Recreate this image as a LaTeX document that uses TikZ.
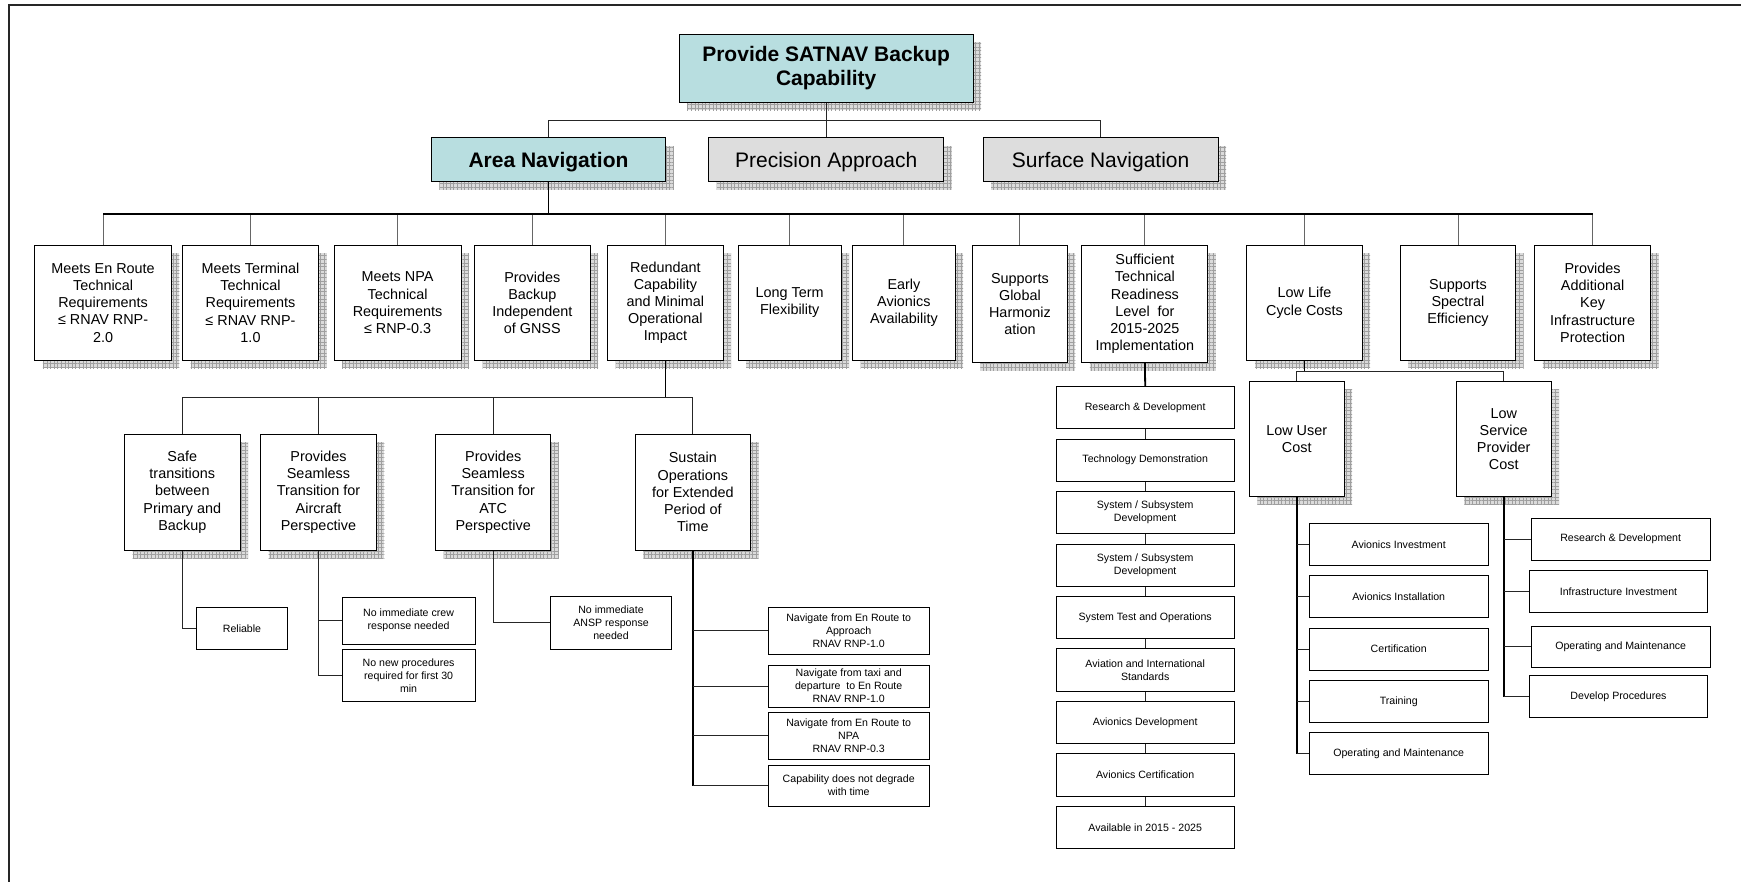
\documentclass[tikz,border=0pt]{standalone}
\usepackage{fontspec}
\setmainfont{Liberation Sans}
\usetikzlibrary{shadows,patterns.meta}

\definecolor{tealfill}{RGB}{184,222,224}
\definecolor{greyfill}{RGB}{221,221,221}

\tikzset{
  box/.style={draw=black, line width=1pt, fill=white, align=center, inner sep=1pt},
  wh/.style 2 args={minimum width=#1pt, minimum height=#2pt},
  shadowed/.style={
    general shadow={shadow xshift=8pt, shadow yshift=-8pt, fill=gray!28, draw=none},
    general shadow={shadow xshift=8pt, shadow yshift=-8pt, draw=none,
      pattern={Hatch[distance=3.6pt, angle=0, line width=0.5pt]}, pattern color=gray!75}},
  titlefont/.style={font=\fontsize{21}{24}\selectfont\bfseries},
  headfont/.style={font=\fontsize{21}{24}\selectfont},
  midfont/.style={font=\fontsize{14.4}{17.2}\selectfont},
  smallfont/.style={font=\fontsize{10.6}{13}\selectfont},
  headstrut/.style={execute at begin node={\rule{0pt}{19pt}}},
  mainbox/.style={box, shadowed, midfont},
  leaf/.style={box, smallfont, line width=0.9pt},
  conn/.style={draw=black!85, line width=0.9pt},
  drop/.style={draw=black!60, line width=1pt},
  bus/.style={draw=black, line width=1.5pt},
  trunk/.style={draw=black, line width=1.8pt},
}

\begin{document}
\begin{tikzpicture}[x=1pt, y=-1pt]
\useasboundingbox (0,0) rectangle (1741,882);

% page frame
\draw[line width=1.2pt, black!85] (9,882) -- (9,5) -- (1741,5);

% ---------- top levels ----------
\node[box, shadowed, fill=tealfill, titlefont, headstrut, wh={294}{68}] (top) at (826.2,68.3)
  {Provide SATNAV Backup\\Capability};
\node[box, shadowed, fill=tealfill, titlefont, headstrut, wh={234.5}{44}] (area) at (548.5,160)
  {Area Navigation};
\node[box, shadowed, fill=greyfill, headfont, headstrut, wh={235}{44}] (prec) at (826.2,160)
  {Precision Approach};
\node[box, shadowed, fill=greyfill, headfont, headstrut, wh={235}{44}] (surf) at (1100.6,160)
  {Surface Navigation};

\draw[conn] (top.south) -- ++(0,17.7) -| (area.north);
\draw[conn] (top.south) -- ++(0,17.7) -| (surf.north);
\draw[conn] (top.south) -- (prec.north);

% ---------- second level ----------
\node[mainbox, wh={136.6}{115}] (l1) at (103.1,302.8)
  {Meets En Route\\Technical\\Requirements\\≤ RNAV RNP-\\2.0};
\node[mainbox, wh={136}{115}] (l2) at (250.5,302.8)
  {Meets Terminal\\Technical\\Requirements\\≤ RNAV RNP-\\1.0};
\node[mainbox, wh={127}{115}] (l3) at (397.6,302.8)
  {Meets NPA\\Technical\\Requirements\\≤ RNP-0.3};
\node[mainbox, wh={115.6}{115}] (l4) at (532.3,302.8)
  {Provides\\Backup\\Independent\\of GNSS};
\node[mainbox, wh={115.5}{115}] (red) at (665.4,302.8)
  {Redundant\\Capability\\and Minimal\\Operational\\Impact};
\node[mainbox, wh={103}{115}] (l6) at (789.7,302.8)
  {Long Term\\Flexibility};
\node[mainbox, wh={102.5}{115}] (l7) at (903.9,302.8)
  {Early\\Avionics\\Availability};
\node[mainbox, wh={95}{117.4}] (l8) at (1019.9,304)
  {Supports\\Global\\Harmoniz\\ation};
\node[mainbox, wh={126}{117.4}] (suf) at (1144.9,304)
  {Sufficient\\Technical\\Readiness\\Level\ \ for\\2015-2025\\Implementation};
\node[mainbox, wh={115.3}{115}] (llc) at (1304.5,302.8)
  {Low Life\\Cycle Costs};
\node[mainbox, wh={115.3}{115}] (l11) at (1458,302.8)
  {Supports\\Spectral\\Efficiency};
\node[mainbox, wh={116}{115}] (l12) at (1592.6,302.8)
  {Provides\\Additional\\Key\\Infrastructure\\Protection};

\path (area.south) ++(0,31.3) coordinate (b2);
\draw[trunk] (area.south) -- (b2);
\foreach \n in {l1,l2,l3,l4,red,l6,l7,l8,suf,llc,l11,l12}
  \draw[drop] (b2 -| \n.north) -- (\n.north);
\draw[bus] (b2 -| l1.north) -- (b2 -| l12.north);

% ---------- redundant capability branch ----------
\node[mainbox, wh={115.6}{115.7}] (safe) at (182.3,492.2)
  {Safe\\transitions\\between\\Primary and\\Backup};
\node[mainbox, wh={115.6}{115.7}] (air) at (318.5,492.2)
  {Provides\\Seamless\\Transition for\\Aircraft\\Perspective};
\node[mainbox, wh={115.2}{115.7}] (atc) at (493.2,492.2)
  {Provides\\Seamless\\Transition for\\ATC\\Perspective};
\node[mainbox, wh={115.3}{115.7}] (sus) at (692.9,492.2)
  {Sustain\\Operations\\for Extended\\Period of\\Time};

\path (red.south) ++(0,37) coordinate (b3);
\draw[trunk] (red.south) -- (b3);
\draw[conn] (b3 -| safe.north) -- (b3 -| sus.north);
\foreach \n in {safe,air,atc,sus}
  \draw[conn] (b3 -| \n.north) -- (\n.north);

\node[leaf, wh={90.3}{42}] (rel) at (242,628.3) {Reliable};
\node[leaf, wh={132.8}{47}] (crew) at (408.6,620.5) {No immediate crew\\response needed};
\node[leaf, wh={132.8}{52.4}] (proc) at (408.6,675.5) {No new procedures\\required for first 30\\min};
\node[leaf, wh={120.5}{52.3}] (ansp) at (611,622.8) {No immediate\\ANSP response\\needed};

\draw[conn] (safe.south) |- (rel.west);
\draw[conn] (air.south) |- (crew.west);
\draw[conn] (air.south) |- (proc.west);
\draw[conn] (atc.south) |- (ansp.west);

\node[leaf, wh={161}{47}] (sa) at (848.7,630.8) {Navigate from En Route to\\Approach\\RNAV RNP-1.0};
\node[leaf, wh={161}{42}] (sb) at (848.7,686) {Navigate from taxi and\\departure\ \ to En Route\\RNAV RNP-1.0};
\node[leaf, wh={161}{47.3}] (sc) at (848.7,735.7) {Navigate from En Route to\\NPA\\RNAV RNP-0.3};
\node[leaf, wh={161}{41.3}] (sd) at (848.7,785.7) {Capability does not degrade\\with time};

\draw[trunk] (sus.south) -- (sus.south |- sd.west);
\foreach \n in {sa,sb,sc,sd}
  \draw[conn] (sus.south |- \n.west) -- (\n.west);

% ---------- technical readiness column ----------
\foreach \n/\t [count=\i from 0] in {
    r1/{Research \& Development},
    r2/{Technology Demonstration},
    r3/{System / Subsystem\\Development},
    r4/{System / Subsystem\\Development},
    r5/{System Test and Operations},
    r6/{Aviation and International\\Standards},
    r7/{Avionics Development},
    r8/{Avionics Certification},
    r9/{Available in 2015 - 2025}}
  \node[leaf, wh={178.3}{42.3}] (\n) at (1145.2,407.8+52.45*\i) {\t};

\draw[trunk] (suf.south) -- (r1.north);
\foreach \a/\b in {r1/r2,r2/r3,r3/r4,r4/r5,r5/r6,r6/r7,r7/r8,r8/r9}
  \draw[conn, line width=1.1pt] (\a.south) -- (\b.north);

% ---------- life cycle cost branch ----------
\node[mainbox, wh={94.7}{115.3}] (luc) at (1296.7,439.3) {Low User\\Cost};
\node[mainbox, wh={94.7}{115.3}] (lsp) at (1503.7,439.3) {Low\\Service\\Provider\\Cost};

\path (llc.south) ++(0,10.4) coordinate (b4);
\draw[trunk] (llc.south) -- (b4);
\draw[conn] (b4 -| luc.north) -- (b4 -| lsp.north);
\draw[conn] (b4 -| luc.north) -- (luc.north);
\draw[conn] (b4 -| lsp.north) -- (lsp.north);

\foreach \n/\t [count=\i from 0] in {
    u1/{Avionics Investment},
    u2/{Avionics Installation},
    u3/{Certification},
    u4/{Training},
    u5/{Operating and Maintenance}}
  \node[leaf, wh={178.7}{42}] (\n) at (1398.7,544.3+52.4*\i) {\t};

\draw[trunk] (luc.south) -- (luc.south |- u5.west);
\foreach \n in {u1,u2,u3,u4,u5}
  \draw[conn] (luc.south |- \n.west) -- (\n.west);

\node[leaf, wh={178.7}{42}] (p1) at (1620.7,539) {Research \& Development};
\node[leaf, wh={178.4}{42}] (p2) at (1618.5,591.3) {Infrastructure Investment};
\node[leaf, wh={178.7}{41.7}] (p3) at (1620.7,646.8) {Operating and Maintenance};
\node[leaf, wh={178.4}{41.6}] (p4) at (1618.5,696.5) {Develop Procedures};

\draw[trunk] (lsp.south) -- (lsp.south |- p4.west);
\foreach \n in {p1,p2,p3,p4}
  \draw[conn] (lsp.south |- \n.west) -- (\n.west);

\end{tikzpicture}
\end{document}
